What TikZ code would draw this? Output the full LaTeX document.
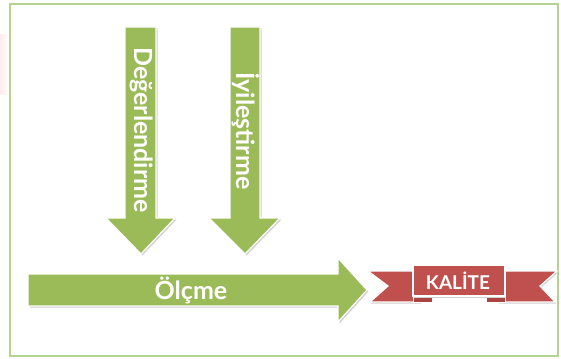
\documentclass[tikz,border=0pt]{standalone}
\usepackage{fontspec}
\setmainfont{Lato}
\definecolor{olivegreen}{HTML}{9BBB59}
\definecolor{framegreen}{HTML}{B5D292}
\definecolor{ribred}{HTML}{C0504D}
\definecolor{ribdark}{HTML}{A94441}
\tikzset{
  arrowshape/.style={fill=olivegreen, draw=white, line width=1.2pt, line join=miter},
  shadowshape/.style={fill=black!18, draw=none},
  ribbonshape/.style={fill=ribred, draw=white, line width=1.2pt, line join=miter},
  vlabel/.style={text=white, font=\bfseries\fontsize{25}{25}\selectfont, rotate=-90, inner sep=0pt},
  hlabel/.style={text=white, font=\bfseries\fontsize{25}{25}\selectfont, inner sep=0pt},
}
\begin{document}
\begin{tikzpicture}[x=1pt,y=-1pt]
\useasboundingbox (0,0) rectangle (561,358);
\fill[white] (0,0) rectangle (561,358);
% faint pink glow left
\shade[left color=red!7, right color=white] (0,35) rectangle (9,95);
% frame
\draw[framegreen, line width=2.2pt] (10,4) rectangle (558,356);

% down arrow 1
\fill[shadowshape, shift={(1.5,1.5)}] (125,27) -- (156,27) -- (156,218) -- (175,218) -- (141,254) -- (106,218) -- (125,218) -- cycle;
\draw[arrowshape] (125,27) -- (156,27) -- (156,218) -- (175,218) -- (141,254) -- (106,218) -- (125,218) -- cycle;
\node[vlabel] (deg) at (142,130) {Değerlendirme};

% down arrow 2
\fill[shadowshape, shift={(1.5,1.5)}] (230,27) -- (260,27) -- (260,218) -- (280,218) -- (245,254) -- (209,218) -- (230,218) -- cycle;
\draw[arrowshape] (230,27) -- (260,27) -- (260,218) -- (280,218) -- (245,254) -- (209,218) -- (230,218) -- cycle;
\node[vlabel] (iyi) at (246,131) {İyileştirme};

% horizontal arrow
\fill[shadowshape, shift={(1.5,1.5)}] (28,274) -- (338,274) -- (338,258) -- (367,290) -- (338,322) -- (338,306) -- (28,306) -- cycle;
\draw[arrowshape] (28,274) -- (338,274) -- (338,258) -- (367,290) -- (338,322) -- (338,306) -- (28,306) -- cycle;
\node[hlabel] (olc) at (191,290) {Ölçme};

% ribbon
\begin{scope}
\fill[shadowshape, shift={(1.2,1.5)}] (368,271) -- (420,271) -- (420,302) -- (370,302) -- (388,286) -- cycle;
\fill[shadowshape, shift={(1.2,1.5)}] (498,271) -- (557,271) -- (540,286) -- (555,302) -- (498,302) -- cycle;
\draw[ribbonshape] (368,271) -- (420,271) -- (420,302) -- (370,302) -- (388,286) -- cycle;
\draw[ribbonshape] (498,271) -- (557,271) -- (540,286) -- (555,302) -- (498,302) -- cycle;
\draw[fill=ribdark, draw=white, line width=1pt] (413,295) rectangle (432,302);
\draw[fill=ribdark, draw=white, line width=1pt] (486,295) rectangle (505,302);
\fill[shadowshape, shift={(1.2,1.5)}] (413,265) rectangle (505,296);
\draw[ribbonshape] (413,265) rectangle (505,296);
\node[text=white, font=\bfseries\fontsize{19}{19}\selectfont, inner sep=0pt] (kal) at (458,281) {KALİTE};
\end{scope}
\end{tikzpicture}
\end{document}
